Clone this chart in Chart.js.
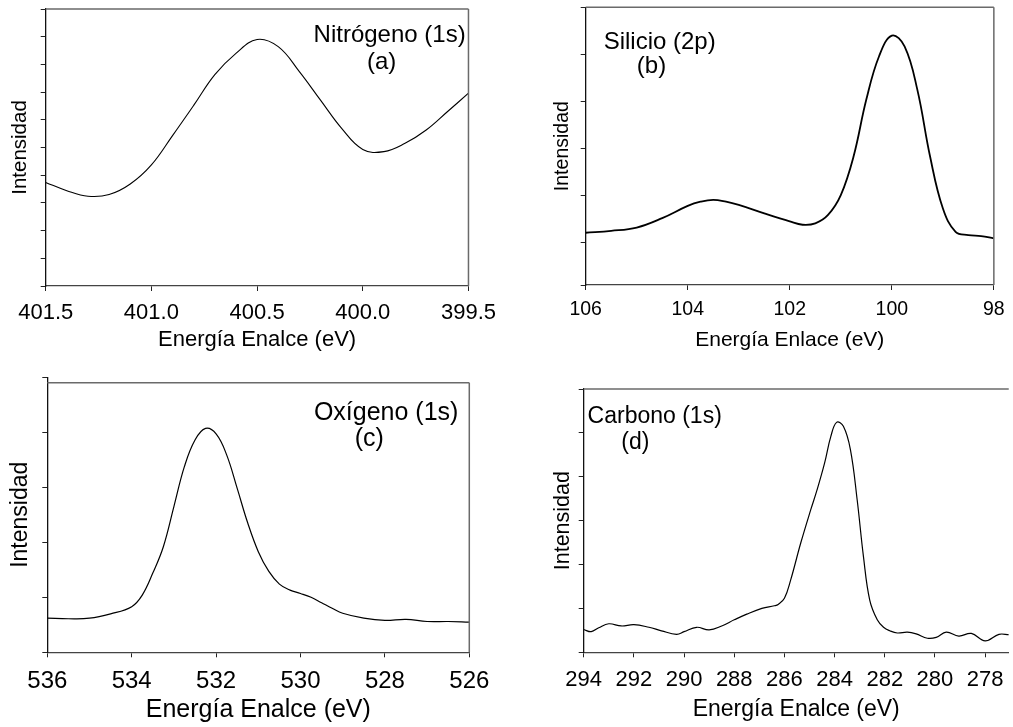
<!DOCTYPE html>
<html><head><meta charset="utf-8">
<script src="https://cdn.jsdelivr.net/npm/chart.js@4.4.0/dist/chart.umd.min.js"></script>
<style>
html,body{margin:0;padding:0;background:#fff;}
body{width:1013px;height:727px;position:relative;overflow:hidden;}
.p{position:absolute;}
</style></head><body>
<div class="p" style="left:0;top:0;width:505px;height:360px"><canvas id="ca"></canvas></div>
<div class="p" style="left:505px;top:0;width:508px;height:360px"><canvas id="cb"></canvas></div>
<div class="p" style="left:0;top:360px;width:505px;height:367px"><canvas id="cc"></canvas></div>
<div class="p" style="left:505px;top:360px;width:508px;height:367px"><canvas id="cd"></canvas></div>
<script>
// ---- Panel (a): Nitrógeno (1s)
const energyA = [401.5,401.4,401.3,401.2,401.1,401.0,400.9,400.8,400.7,400.6,400.5,400.4,400.3,400.2,400.1,400.0,399.9,399.8,399.7,399.6,399.5];
const intensityA = [3.74,3.44,3.24,3.30,3.68,4.37,5.43,6.52,7.63,8.40,8.90,8.64,7.74,6.71,5.69,4.93,4.85,5.15,5.63,6.29,6.96];
const xTicksA = [401.5,401.0,400.5,400.0,399.5];
const labelA = ["Nitrógeno (1s)", "(a)"];

// ---- Panel (b): Silicio (2p)
const energyB = [106,105.5,105,104.5,104,103.75,103.5,103.25,103,102.5,102,101.75,101.5,101.25,101,100.75,100.5,100.25,100,99.75,99.5,99.25,99,98.75,98.5,98.25,98];
const intensityB = [1.21,1.25,1.32,1.52,1.78,1.87,1.91,1.87,1.80,1.62,1.45,1.38,1.41,1.59,2.01,2.83,4.04,4.96,5.40,5.17,4.25,2.83,1.73,1.23,1.16,1.14,1.09];
const xTicksB = [106,104,102,100,98];
const labelB = ["Silicio (2p)", "(b)"];

// ---- Panel (c): Oxígeno (1s)
const energyC = [536,535.5,535,534.5,534,533.75,533.5,533.25,533,532.75,532.5,532.25,532,531.75,531.5,531.25,531,530.75,530.5,530.25,530,529.75,529.5,529.25,529,528.5,528,527.5,527,526.5,526];
const intensityC = [0.62,0.61,0.62,0.70,0.83,1.04,1.44,1.92,2.65,3.38,3.86,4.07,3.97,3.59,2.98,2.35,1.83,1.47,1.24,1.13,1.07,1.00,0.90,0.80,0.71,0.62,0.58,0.60,0.56,0.56,0.55];
const xTicksC = [536,534,532,530,528,526];
const labelC = ["Oxígeno (1s)", "(c)"];

// ---- Panel (d): Carbono (1s)
const energyD = [294.0,293.7,293.4,293.0,292.5,292.0,291.4,290.9,290.3,290.0,289.5,289.0,288.5,288.0,287.5,286.9,286.4,286.25,286.0,285.75,285.35,284.95,284.7,284.4,284.15,283.92,283.65,283.37,283.1,282.85,282.6,282.3,282.05,281.8,281.5,281.1,280.75,280.3,279.95,279.55,279.05,278.55,278.0,277.45,277.05];
const intensityD = [0.52,0.47,0.56,0.65,0.60,0.63,0.57,0.49,0.41,0.47,0.57,0.51,0.60,0.74,0.87,1.00,1.06,1.09,1.23,1.65,2.49,3.25,3.70,4.31,4.92,5.24,5.15,4.62,3.47,2.18,1.19,0.74,0.57,0.49,0.44,0.46,0.42,0.32,0.34,0.46,0.37,0.43,0.26,0.41,0.40];
const xTicksD = [294,292,290,288,286,284,282,280,278];
const labelD = ["Carbono (1s)", "(d)"];

const FAMILY = '"Liberation Sans", Arial, Helvetica, sans-serif';

const framePlugin = {
  id: 'frame',
  afterDatasetsDraw(chart, args, o) {
    const {ctx, chartArea: a, scales: {y}} = chart;
    const top = (o.topValue != null) ? y.getPixelForValue(o.topValue) : a.top;
    ctx.save();
    ctx.strokeStyle = o.color; ctx.lineWidth = o.width;
    ctx.beginPath();
    ctx.moveTo(a.left, top); ctx.lineTo(a.right, top);
    if (o.right) { ctx.moveTo(a.right, top); ctx.lineTo(a.right, a.bottom); }
    ctx.stroke();
    ctx.restore();
  }
};

const notePlugin = {
  id: 'note',
  afterDatasetsDraw(chart, args, o) {
    const {ctx, scales: {x, y}} = chart;
    ctx.save();
    ctx.fillStyle = '#000';
    ctx.font = o.size + 'px ' + FAMILY;
    ctx.textAlign = 'center'; ctx.textBaseline = 'middle';
    o.lines.forEach(l => ctx.fillText(l.text, x.getPixelForValue(l.x), y.getPixelForValue(l.y)));
    ctx.restore();
  }
};

function panel(id, p) {
  const data = p.energy.map((e, i) => ({x: e, y: p.intensity[i]}));
  new Chart(document.getElementById(id), {
    type: 'line',
    data: { datasets: [{ data, borderColor: '#000', borderWidth: p.lw, pointRadius: 0,
      fill: false, tension: 0.4 }] },
    options: {
      responsive: true, maintainAspectRatio: false, animation: false, devicePixelRatio: 1,
      layout: { padding: { left: 0, top: p.top, right: p.right, bottom: 0 } },
      plugins: {
        legend: { display: false }, tooltip: { enabled: false },
        frame: { color: '#6a6a6a', width: 1.5, right: p.frameRight, topValue: p.frameTop },
        note: { size: p.noteSize, lines: p.notes }
      },
      scales: {
        x: {
          type: 'linear', reverse: true, min: p.xmin, max: p.xmax,
          afterBuildTicks: s => { s.ticks = p.xTicks.map(v => ({value: v})); },
          afterFit: s => { s.height = p.xH; },
          ticks: { color: '#000', padding: p.xTickPad, maxRotation: 0, autoSkip: false,
            font: { family: FAMILY, size: p.xTickSize }, callback: v => p.fmt(v) },
          grid: { drawOnChartArea: false, drawTicks: true, tickLength: 5, color: '#222', lineWidth: 1 },
          border: { display: true, color: '#444', width: 1.3 },
          title: { display: true, text: p.xTitle, color: '#000',
            font: { family: FAMILY, size: p.xTitleSize }, padding: { top: 0, bottom: p.xTitlePad } }
        },
        y: {
          type: 'linear', min: p.ymin, max: p.ymax,
          afterFit: s => { s.width = p.yW; },
          ticks: { display: false, stepSize: 1 },
          grid: { drawOnChartArea: false, drawTicks: true, tickLength: 5, color: '#222', lineWidth: 1 },
          border: { display: true, color: '#111', width: 1.3 },
          title: { display: true, text: 'Intensidad', color: '#000',
            font: { family: FAMILY, size: p.yTitleSize }, padding: { top: p.yTitlePad, bottom: 0 } }
        }
      }
    },
    plugins: [framePlugin, notePlugin]
  });
}

panel('ca', {
  energy: energyA, intensity: intensityA, xTicks: xTicksA, xmin: 399.5, xmax: 401.5,
  fmt: v => v.toFixed(1), ymin: 0, ymax: 10, lw: 1.1,
  top: 9, right: 32.3, yW: 45.7, xH: 74,
  xTickSize: 22, xTickPad: 9, xTitle: 'Energía Enalce (eV)', xTitleSize: 22, xTitlePad: 6.8,
  yTitleSize: 20.5, yTitlePad: 7.7, frameRight: true, frameTop: null,
  noteSize: 24, notes: [{text: labelA[0], x: 399.873, y: 9.06}, {text: labelA[1], x: 399.911, y: 8.09}]
});

panel('cb', {
  energy: energyB, intensity: intensityB, xTicks: xTicksB, xmin: 98, xmax: 106,
  fmt: v => String(v), ymin: 0.1, ymax: 6, lw: 1.8,
  top: 7.3, right: 14.7, yW: 80.7, xH: 75,
  xTickSize: 19.5, xTickPad: 8.3, xTitle: 'Energía Enlace (eV)', xTitleSize: 21, xTitlePad: 7.4,
  yTitleSize: 19.5, yTitlePad: 45.6, frameRight: true, frameTop: null,
  noteSize: 24, notes: [{text: labelB[0], x: 104.55, y: 5.25}, {text: labelB[1], x: 104.71, y: 4.74}]
});

panel('cc', {
  energy: energyC, intensity: intensityC, xTicks: xTicksC, xmin: 526, xmax: 536,
  fmt: v => String(v), ymin: 0, ymax: 5, lw: 1.2,
  top: 17.3, right: 35.7, yW: 47.3, xH: 74.7,
  xTickSize: 24, xTickPad: 10, xTitle: 'Energía Enalce (eV)', xTitleSize: 25, xTitlePad: 2,
  yTitleSize: 23, yTitlePad: 6.9, frameRight: true, frameTop: 4.9,
  noteSize: 25, notes: [{text: labelC[0], x: 527.97, y: 4.345}, {text: labelC[1], x: 528.37, y: 3.88}]
});

panel('cd', {
  energy: energyD, intensity: intensityD, xTicks: xTicksD, xmin: 277.06, xmax: 294,
  fmt: v => String(v), ymin: 0, ymax: 6, lw: 1.2,
  top: 29, right: 0, yW: 78.7, xH: 74.7,
  xTickSize: 22, xTickPad: 9.5, xTitle: 'Energía Enalce (eV)', xTitleSize: 23, xTitlePad: 3.2,
  yTitleSize: 21.5, yTitlePad: 45.4, frameRight: false, frameTop: null,
  noteSize: 23, notes: [{text: labelD[0], x: 291.17, y: 5.37}, {text: labelD[1], x: 291.94, y: 4.78}]
});
</script>
</body></html>
